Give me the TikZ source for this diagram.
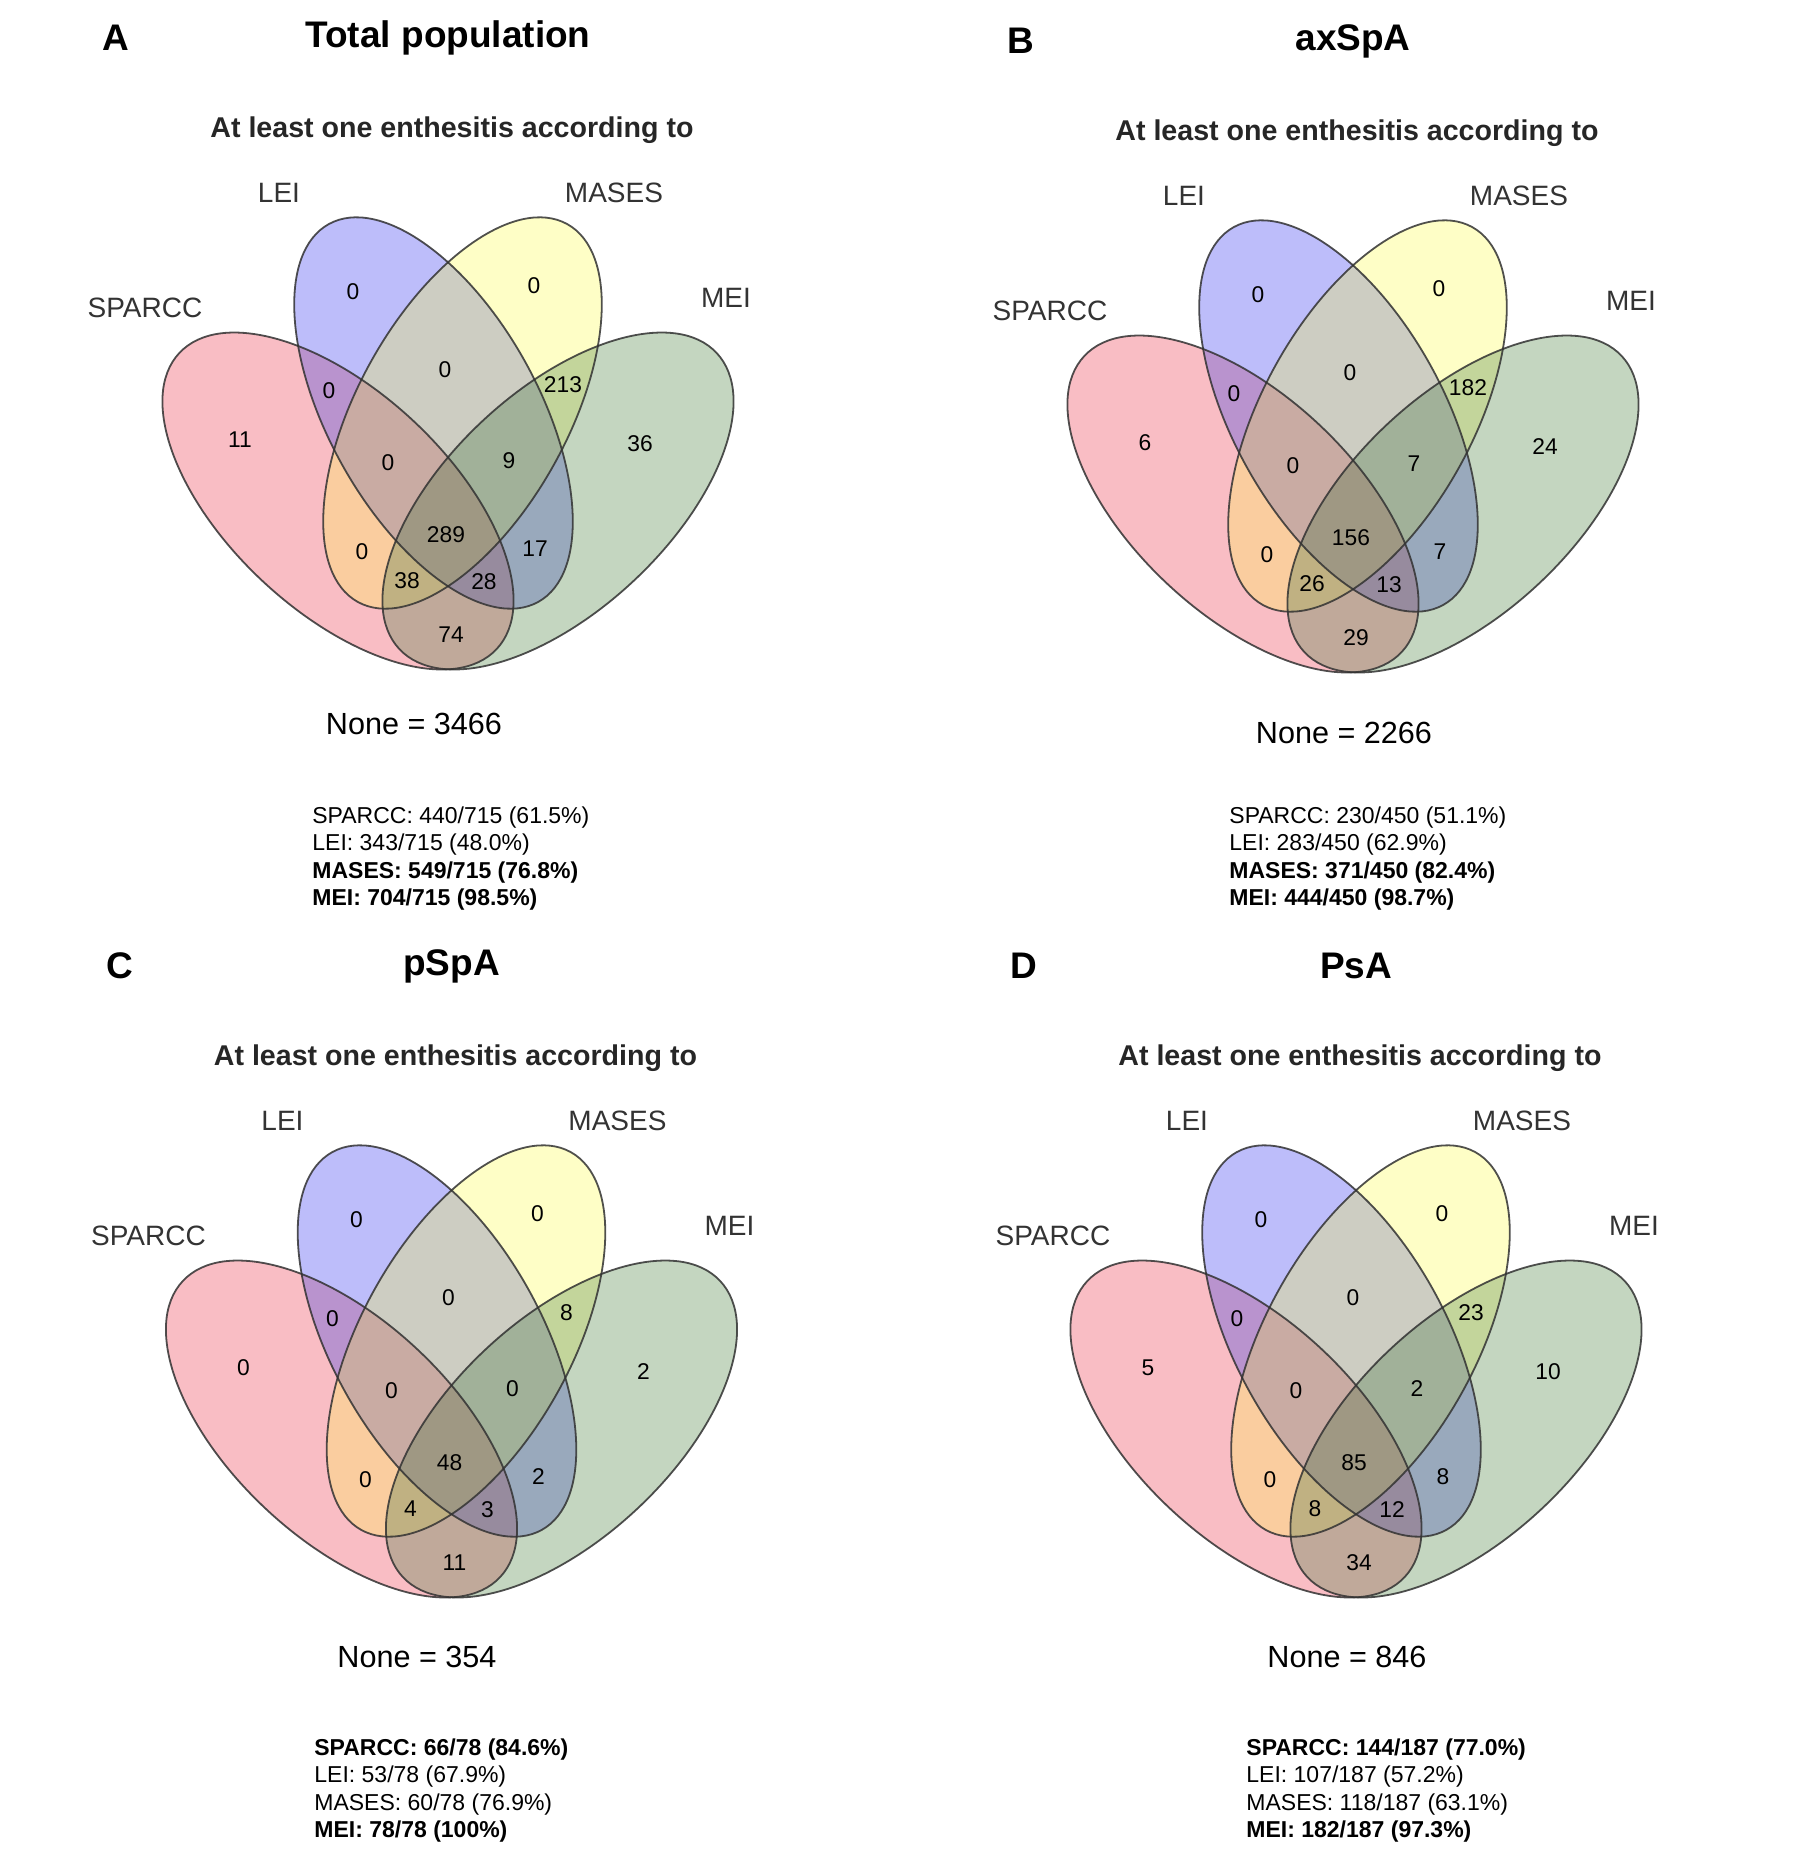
\documentclass[tikz,border=0pt]{standalone}
\usepackage{fontspec}
\setmainfont{Liberation Sans}
\usetikzlibrary{positioning}

% colours of the parts that lie in one set only, and the washes laid under them
\definecolor{sparcccol}{RGB}{250,190,196}
\definecolor{leicol}{RGB}{190,190,250}
\definecolor{masescol}{RGB}{255,255,200}
\definecolor{meicol}{RGB}{196,214,192}
\definecolor{sparccwash}{RGB}{241,121,137}
\definecolor{leiwash}{RGB}{121,121,245}
\definecolor{maseswash}{RGB}{253,253,137}
\definecolor{meiwash}{RGB}{137,173,129}
\definecolor{edgecol}{RGB}{50,50,50}

\tikzset{
  setwash/.style={fill=#1, fill opacity=0.5},
  setfill/.style={fill=#1, blend mode=multiply},
  setedge/.style={draw=edgecol, line width=0.9pt, draw opacity=0.85},
  paneltag/.style={font=\fontsize{18.5}{20}\selectfont\bfseries},
  paneltitle/.style={font=\fontsize{18.5}{20}\selectfont\bfseries},
  subtitle/.style={font=\fontsize{14.3}{16}\selectfont\bfseries, text=black!85},
  setname/.style={font=\fontsize{14}{16}\selectfont, text=black!80},
  count/.style={font=\fontsize{11.4}{13}\selectfont, inner sep=0pt},
  nonecount/.style={font=\fontsize{15.3}{17}\selectfont},
  totals/.style={font=\fontsize{11.5}{13.75}\selectfont, align=left,
    anchor=north west, inner sep=0pt},
}

\newcommand{\sparccset}[1]{\path[#1, rotate around={137:(338,-501)}] (338,-501) ellipse [x radius=217, y radius=110];}
\newcommand{\leiset}[1]{\path[#1, rotate around={119:(433.5,-413)}] (433.5,-413) ellipse [x radius=216, y radius=105];}
\newcommand{\masesset}[1]{\path[#1, rotate around={61:(462.5,-413)}] (462.5,-413) ellipse [x radius=216, y radius=105];}
\newcommand{\meiset}[1]{\path[#1, rotate around={43:(558,-501)}] (558,-501) ellipse [x radius=217, y radius=110];}

% one Venn panel: prefix, shift, letter, title, region counts
\newcommand{\vennpanel}[5]{%
  \begin{scope}[shift={#2}]
    \node[paneltag] (#1tag) at (116,-38) {#3};
    \node[paneltitle] (#1title) at (448,-38) {#4};
    \node[subtitle] (#1sub) at (452,-130) {At least one enthesitis according to};
    \sparccset{setwash=sparccwash} \leiset{setwash=leiwash}
    \masesset{setwash=maseswash} \meiset{setwash=meiwash}
    \begin{scope}[transparency group, opacity=0.5]
      \sparccset{setfill=sparcccol} \leiset{setfill=leicol}
      \masesset{setfill=masescol} \meiset{setfill=meicol}
    \end{scope}
    \sparccset{setedge} \leiset{setedge} \masesset{setedge} \meiset{setedge}
    \node[setname] (#1sparcc) at (145,-308) {SPARCC};
    \node[setname] (#1lei) at (279,-193) {LEI};
    \node[setname] (#1mases) at (614,-193) {MASES};
    \node[setname] (#1mei) at (726,-298) {MEI};
    \foreach \rx/\ry [count=\i] in {353/292, 534/286, 445/370, 563/385, 329/391,
        240/440, 640/444, 388/463, 509/461, 446/535, 362/552, 535/549,
        407/581, 484/582, 451/635}
      \coordinate (#1r\i) at (\rx,-\ry);
    \foreach \n [count=\i] in {#5}
      \node[count] (#1n\i) at (#1r\i) {\n};
  \end{scope}}

\begin{document}
\begin{tikzpicture}[x=0.5pt, y=0.5pt]
  \useasboundingbox (0,0) rectangle (1809,-1860);

  \vennpanel{a}{(0,0)}{A}{Total population}{0,0,0,213,0,11,36,0,9,289,0,17,38,28,74}
  \vennpanel{b}{(905,-3)}{B}{axSpA}{0,0,0,182,0,6,24,0,7,156,0,7,26,13,29}
  \vennpanel{c}{(3.5,-928)}{C}{pSpA}{0,0,0,8,0,0,2,0,0,48,0,2,4,3,11}
  \vennpanel{d}{(908,-928)}{D}{PsA}{0,0,0,23,0,5,10,0,2,85,0,8,8,12,34}

  \node[nonecount] (anone) at (414,-724) {None = 3466};
  \node[nonecount] (bnone) at (1344,-733) {None = 2266};
  \node[nonecount] (cnone) at (417,-1657) {None = 354};
  \node[nonecount] (dnone) at (1347,-1657) {None = 846};

  \node[totals] (atotals) at (312,-806) {SPARCC: 440/715 (61.5\%)\\LEI: 343/715 (48.0\%)\\
    \textbf{MASES: 549/715 (76.8\%)}\\\textbf{MEI: 704/715 (98.5\%)}};
  \node[totals] (btotals) at (1229,-806) {SPARCC: 230/450 (51.1\%)\\LEI: 283/450 (62.9\%)\\
    \textbf{MASES: 371/450 (82.4\%)}\\\textbf{MEI: 444/450 (98.7\%)}};
  \node[totals] (ctotals) at (314,-1738) {\textbf{SPARCC: 66/78 (84.6\%)}\\LEI: 53/78 (67.9\%)\\
    MASES: 60/78 (76.9\%)\\\textbf{MEI: 78/78 (100\%)}};
  \node[totals] (dtotals) at (1246,-1738) {\textbf{SPARCC: 144/187 (77.0\%)}\\LEI: 107/187 (57.2\%)\\
    MASES: 118/187 (63.1\%)\\\textbf{MEI: 182/187 (97.3\%)}};
\end{tikzpicture}
\end{document}
